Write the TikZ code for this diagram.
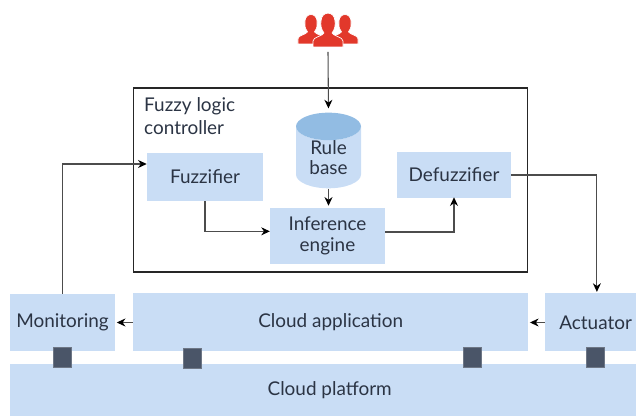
\documentclass[tikz,border=0pt]{standalone}
\usepackage{fontspec}
\setmainfont{Lato}
\usetikzlibrary{arrows.meta, positioning, shapes.geometric}

\definecolor{boxblue}{HTML}{C9DDF5}
\definecolor{topblue}{HTML}{92BCE3}
\definecolor{portgray}{HTML}{4A5568}
\definecolor{userred}{HTML}{E2382B}
\definecolor{textgray}{HTML}{2B3444}

\tikzset{
    labelfont/.style={text=textgray, font=\fontsize{14.2}{17.25}\selectfont},
    block/.style={fill=boxblue, inner sep=0pt, align=center, labelfont},
    port/.style={fill=portgray, draw=portgray!80, line width=.3pt, inner sep=0pt, minimum width=13.5pt, minimum height=15pt},
    link/.style={-{Stealth[length=6.5pt,width=6pt,black]}, line width=.8pt, draw=black!70},
    user/.pic={
        \fill[userred, draw=white, line width=.5pt]
            (-15,0) -- (15,0) -- (15,-6) .. controls (15,-10) and (5,-11) .. (4,-14)
            .. controls (7,-18) and (7.5,-22) .. (7,-26)
            .. controls (6.5,-36.5) and (-6.5,-36.5) .. (-7,-26)
            .. controls (-7.5,-22) and (-7,-18) .. (-4,-14)
            .. controls (-5,-11) and (-15,-10) .. (-15,-6) -- cycle;
    }
}

\begin{document}
\begin{tikzpicture}[x=.75pt, y=-.75pt]
    \useasboundingbox (0,0) rectangle (636,416);

    % controller frame
    \node (controller) [draw=black!85, line width=.8pt, minimum width=295pt, minimum height=138pt, inner sep=0pt] at (330.5,180) {};
    \node (title) [anchor=west, align=left, labelfont] at (139.5,116) {Fuzzy logic\\controller};

    % inner blocks
    \node (fuzzifier) [block, minimum width=87pt, minimum height=36pt] at (205,177) {Fuzzifier};
    \node (defuzzifier) [block, minimum width=85.5pt, minimum height=35pt] at (454,175) {Defuzzifier};
    \node (inference) [block, minimum width=86pt, minimum height=42pt] at (327.5,236) {\raisebox{-2pt}{Inference}\\[-1.5pt]\raisebox{-2pt}{engine}};
    \node (rulebase) [cylinder, shape border rotate=90, aspect=.72, cylinder uses custom fill,
        cylinder body fill=boxblue, cylinder end fill=topblue, inner sep=0pt,
        minimum width=48.75pt, minimum height=54.5pt, align=center, labelfont] at (328.5,157.5) {Rule\\[-2.25pt]base};

    % bottom row
    \node (monitoring) [block, minimum width=79pt, minimum height=43pt] at (62.5,322.5) {\raisebox{-1pt}{Monitoring}};
    \node (cloudapp) [block, right=13pt of monitoring, minimum width=296.5pt, minimum height=43.5pt] {\raisebox{-1pt}{Cloud application}};
    \node (actuator) [block, right=12pt of cloudapp, minimum width=69pt, minimum height=43.5pt] {\hspace*{7pt}\raisebox{-1pt}{Actuator}};
    \node (platform) [block, minimum width=469.5pt, minimum height=39pt] at (323,390) {\hspace*{10pt}\raisebox{-1.5pt}{Cloud platform}};

    \node (port1) [port] at (62.5,357) {};
    \node (port2) [port] at (192,358) {};
    \node (port3) [port] at (472,357.5) {};
    \node (port4) [port] at (595.5,357.5) {};

    % users
    \foreach \userx in {311,345}
        \pic [scale=.87] at (\userx,44) {user};
    \pic at (328,47) {user};
    \coordinate (users) at (328,52);

    \draw [link, shorten >=3pt] (users) -- (rulebase.north);
    \draw [link, shorten >=1.5pt] (rulebase.south) -- (inference.north -| rulebase.south);
    \draw [link, shorten >=1pt] (cloudapp) -- (monitoring);
    \draw [link, shorten >=1pt] (actuator) -- (cloudapp);
    \draw [link] (fuzzifier.south) |- ([yshift=3.5pt]inference.west);
    \draw [link] ([yshift=3pt]inference.east) -| ([yshift=1pt]defuzzifier.south);
    \draw [link] (defuzzifier.east) -| ([xshift=4.5pt,yshift=1pt]actuator.north);
    \draw [link] (monitoring.north) |- ([yshift=9.75pt]fuzzifier.west);
\end{tikzpicture}
\end{document}
